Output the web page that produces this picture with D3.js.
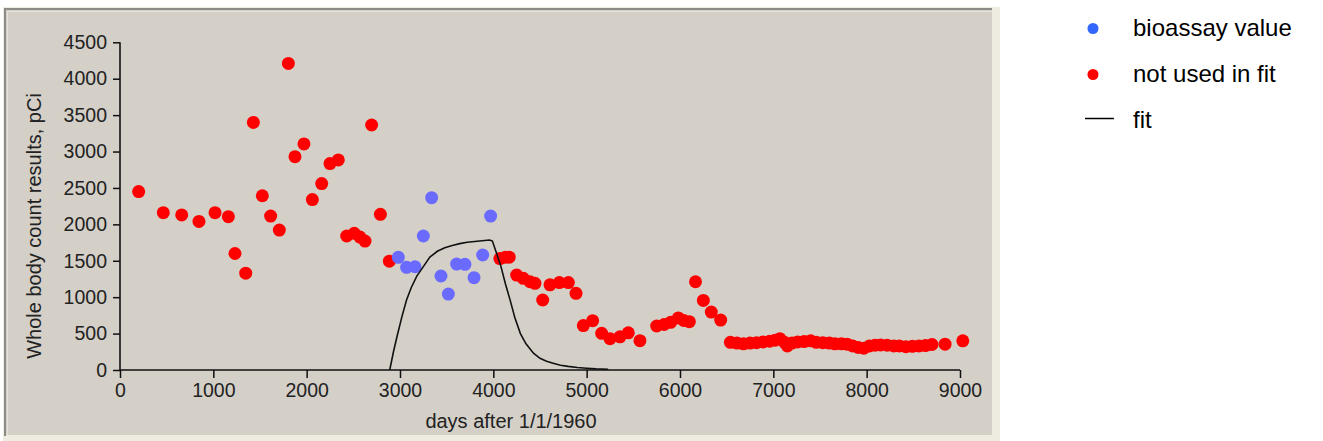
<!DOCTYPE html>
<html>
<head>
<meta charset="utf-8">
<script src="https://cdn.jsdelivr.net/npm/d3@7"></script>
<style>
  html, body { margin: 0; padding: 0; background: #ffffff; }
  svg { display: block; }
  text { font-family: "Liberation Sans", Arial, sans-serif; }
</style>
</head>
<body>
<svg id="chart" width="1323" height="441"></svg>
<script>
// ---- data ----
const redX = [200, 464, 661, 846, 1018, 1161, 1232, 1347, 1429, 1525, 1614, 1707, 1804, 1875, 1971, 2061, 2161, 2250, 2339,
  2429, 2510, 2571, 2625, 2696, 2790, 2886, 4070, 4130, 4170, 4250, 4321, 4393, 4446, 4529, 4607, 4707, 4804, 4886,
  4964, 5064, 5161, 5250, 5357, 5446, 5571, 5750, 5830, 5900, 5982, 6040, 6100, 6166, 6250, 6335, 6436,
  6540, 6610, 6680, 6750, 6820, 6890, 6960, 7020, 7070, 7120, 7150, 7200, 7260, 7330, 7400, 7460, 7530, 7600, 7660,
  7730, 7790, 7850, 7910, 7970, 8030, 8090, 8150, 8220, 8290, 8350, 8420, 8490, 8560, 8630, 8700, 8840, 9030];
const redY = [2450, 2160, 2130, 2040, 2160, 2105, 1600, 1330, 3400, 2393, 2114, 1922, 4210, 2929, 3105, 2340, 2560, 2835, 2885,
  1840, 1877, 1825, 1770, 3364, 2138, 1495, 1530, 1550, 1550, 1304, 1259, 1212, 1190, 961, 1170, 1200, 1200, 1053,
  610, 677, 504, 430, 455, 510, 403, 604, 625, 655, 715, 680, 663, 1212, 955, 795, 686,
  380, 370, 360, 370, 375, 385, 395, 410, 430, 380, 330, 370, 385, 390, 400, 380, 375, 370, 360,
  360, 355, 330, 310, 300, 330, 340, 345, 340, 330, 330, 320, 325, 330, 335, 350, 355, 400];
const blueX = [2982, 3071, 3161, 3250, 3339, 3439, 3518, 3607, 3696, 3793, 3886, 3971];
const blueY = [1547, 1410, 1418, 1840, 2366, 1291, 1043, 1455, 1451, 1268, 1579, 2114];
const fitX = [2890, 2930, 2970, 3020, 3070, 3120, 3180, 3250, 3320, 3400, 3480, 3560, 3640, 3720, 3800, 3880, 3960, 3990,
  4030, 4080, 4130, 4180, 4230, 4290, 4350, 4430, 4500, 4570, 4650, 4720, 4800, 4900, 5000, 5100, 5230];
const fitY = [0, 250, 470, 730, 960, 1130, 1290, 1420, 1550, 1630, 1680, 1710, 1735, 1755, 1765, 1775, 1785, 1770,
  1620, 1430, 1180, 960, 720, 500, 360, 230, 160, 120, 90, 65, 50, 35, 25, 15, 10];
const xTicks = [0, 1000, 2000, 3000, 4000, 5000, 6000, 7000, 8000, 9000];
const yTicks = [0, 500, 1000, 1500, 2000, 2500, 3000, 3500, 4000, 4500];
const xTitle = "days after 1/1/1960";
const yTitle = "Whole body count results, pCi";
const legendLabels = ["bioassay value", "not used in fit", "fit"];
const legendColors = ["#3366ff", "#ff0000", "#000000"];

// ---- drawing ----
const svg = d3.select("#chart");
svg.append("rect").attr("x", 0).attr("y", 0).attr("width", 1323).attr("height", 441).attr("fill", "#ffffff");

// window-like frame
svg.append("rect").attr("x", 3).attr("y", 7).attr("width", 997).attr("height", 434).attr("fill", "#eeebe1");
svg.append("rect").attr("x", 5).attr("y", 9).attr("width", 987).attr("height", 426).attr("fill", "#d4d0c8");
svg.append("line").attr("x1", 4).attr("x2", 992).attr("y1", 9).attr("y2", 9).attr("stroke", "#8e8c86").attr("stroke-width", 2);
svg.append("line").attr("x1", 5).attr("x2", 5).attr("y1", 8).attr("y2", 436).attr("stroke", "#8e8c86").attr("stroke-width", 2);
svg.append("line").attr("x1", 7).attr("x2", 992).attr("y1", 11.5).attr("y2", 11.5).attr("stroke", "#e6e3dc").attr("stroke-width", 1);
svg.append("line").attr("x1", 7.5).attr("x2", 7.5).attr("y1", 11).attr("y2", 435).attr("stroke", "#e6e3dc").attr("stroke-width", 1);

const x = d3.scaleLinear().domain([0, 9000]).range([120, 960]);
const y = d3.scaleLinear().domain([0, 4500]).range([370, 42.3]);

const textColor = "#222222";

// axes
const xAxis = svg.append("g").attr("transform", "translate(0,370)")
  .call(d3.axisBottom(x).tickValues(xTicks).tickSize(8).tickPadding(5).tickFormat(d3.format("d")));
const yAxis = svg.append("g").attr("transform", "translate(120,0)")
  .call(d3.axisLeft(y).tickValues(yTicks).tickSize(7).tickPadding(6).tickFormat(d3.format("d")));
[xAxis, yAxis].forEach(g => {
  g.select(".domain").attr("stroke", "#111").attr("stroke-width", 1.6);
  g.selectAll(".tick line").attr("stroke", "#111").attr("stroke-width", 1.5);
  g.selectAll(".tick text").attr("fill", textColor).style("font-size", "19.5px")
    .style("font-family", "'Liberation Sans', Arial, sans-serif");
});
xAxis.select(".domain").attr("d", "M120,0H960");
yAxis.select(".domain").attr("d", "M0,42.3V370");

// titles
svg.append("text").attr("x", 511).attr("y", 428).attr("text-anchor", "middle")
  .attr("fill", textColor).style("font-size", "20px").text(xTitle);
svg.append("text").attr("transform", "translate(41,226) rotate(-90)").attr("text-anchor", "middle")
  .attr("fill", textColor).style("font-size", "20px").text(yTitle);

// points
const red = d3.zip(redX, redY);
const blue = d3.zip(blueX, blueY);
svg.append("g").selectAll("circle").data(red).join("circle")
  .attr("cx", d => x(d[0])).attr("cy", d => y(d[1])).attr("r", 6.5).attr("fill", "#ff0000");
svg.append("g").selectAll("circle").data(blue).join("circle")
  .attr("cx", d => x(d[0])).attr("cy", d => y(d[1])).attr("r", 6.5).attr("fill", "#6a6aff");

// fit line
const fit = d3.zip(fitX, fitY);
svg.append("path").datum(fit)
  .attr("d", d3.line().x(d => x(d[0])).y(d => y(d[1])))
  .attr("fill", "none").attr("stroke", "#111").attr("stroke-width", 1.6);

// legend
const lg = svg.append("g");
legendLabels.forEach((lab, i) => {
  const cy = 28.5 + i * 46;
  if (i < 2) {
    lg.append("circle").attr("cx", 1093).attr("cy", cy).attr("r", 5.5).attr("fill", legendColors[i]);
  } else {
    lg.append("line").attr("x1", 1085).attr("x2", 1114).attr("y1", 118.5).attr("y2", 118.5)
      .attr("stroke", legendColors[i]).attr("stroke-width", 1.5);
  }
  lg.append("text").attr("x", 1133).attr("y", 36.3 + i * 46).attr("fill", "#000")
    .style("font-size", "24px").text(lab);
});
</script>
</body>
</html>
